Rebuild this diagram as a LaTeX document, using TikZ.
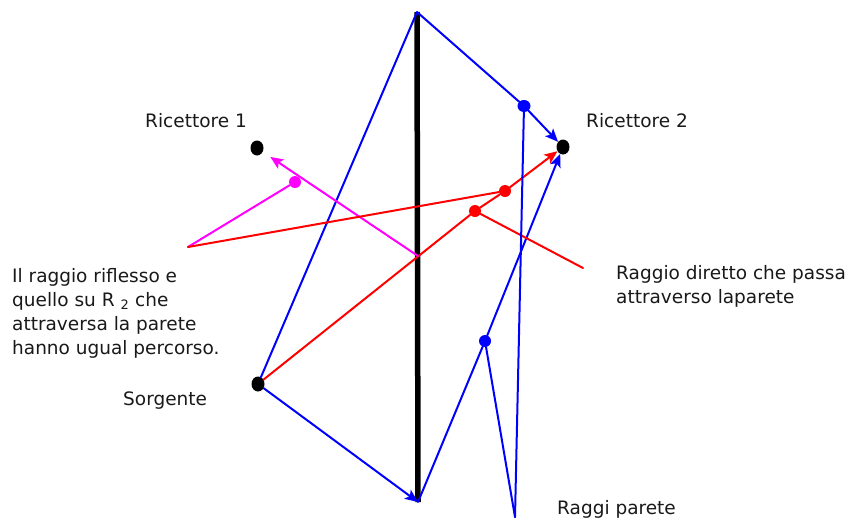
\documentclass[tikz,border=0pt]{standalone}
\usepackage{fontspec}
\setmainfont{DejaVu Sans}
\usetikzlibrary{arrows.meta,shapes.geometric}

\definecolor{viola}{RGB}{255,0,255}
\tikzset{
  punto/.style={ellipse, fill=black, inner sep=0pt, minimum width=13pt, minimum height=15pt},
  puntino/.style={circle, fill=#1, inner sep=0pt, minimum size=12pt},
  raggio/.style={line width=2pt},
  freccia/.style={raggio, -{Stealth[length=13pt,width=11pt,inset=3pt]}},
  testo/.style={inner sep=0pt, text=black!90, font=\fontsize{18.5}{24}\selectfont}
}

\begin{document}
\begin{tikzpicture}[x=1pt, y=-1pt, line join=round, line cap=round]
	\useasboundingbox (0,0) rectangle (853,520);
	
	% Parete
	\coordinate (wtop) at (417,12);
	\coordinate (wbot) at (418,502);
	\coordinate (wref) at (418,256);
	\draw[line width=5.5pt, line cap=butt] (wtop) -- (wbot);
	
	% Sorgente e ricettori
	\node[punto] (src) at (258,384) {};
	\node[punto] (r1) at (257,148) {};
	\node[punto] (r2) at (563,147) {};
	
	% Punti sui raggi
	\node[puntino=blue, minimum width=13pt, ellipse] (b1) at (524,106) {};
	\node[puntino=blue] (b2) at (485,341) {};
	\node[puntino=red] (d1) at (505,191) {};
	\node[puntino=red] (d2) at (475,211) {};
	\node[puntino=viola] (m1) at (295,182) {};
	
	% Estremi delle linee di richiamo
	\coordinate (lab) at (188,247);
	\coordinate (dirend) at (583,268);
	\coordinate (raggiend) at (515,517);
	
	% Raggi che toccano la parete (blu)
	\draw[raggio, blue] (src) -- (wtop);
	\draw[freccia, blue] (src) -- (wbot);
	\draw[freccia, blue] (wtop) -- (b1) -- (r2);
	\draw[freccia, blue] (wbot) -- (b2) -- (r2);
	
	% Raggio diretto (rosso) e raggio riflesso (viola)
	\draw[freccia, red] (src) -- (d2) -- (d1) -- (r2);
	\draw[freccia, viola, shorten >=9pt] (wref) -- (r1);
	
	% Linee di richiamo
	\draw[raggio, viola] (lab) -- (m1);
	\draw[raggio, red] (lab) -- (d1);
	\draw[raggio, red] (d2) -- (dirend);
	\draw[raggio, blue] (b1) -- (raggiend);
	\draw[raggio, blue] (b2) -- (raggiend);
	
	% Scritte
	\node[testo, anchor=base west] (lr1) at (145,127) {Ricettore 1};
	\node[testo, anchor=base west] (lr2) at (586,127) {Ricettore 2};
	\node[testo, anchor=base west] (lsrc) at (123,405) {Sorgente};
	\node[testo, anchor=base west] (lrp) at (557,514) {Raggi parete};
	\node[testo, anchor=north west, align=left] (lrifl) at (12,268)
		{Il raggio riflesso e\\quello su R \textsubscript{2} che\\attraversa la parete\\hanno ugual percorso.};
	\node[testo, anchor=north west, align=left] (ldir) at (616,265)
		{Raggio diretto che passa\\attraverso laparete};
\end{tikzpicture}
\end{document}
